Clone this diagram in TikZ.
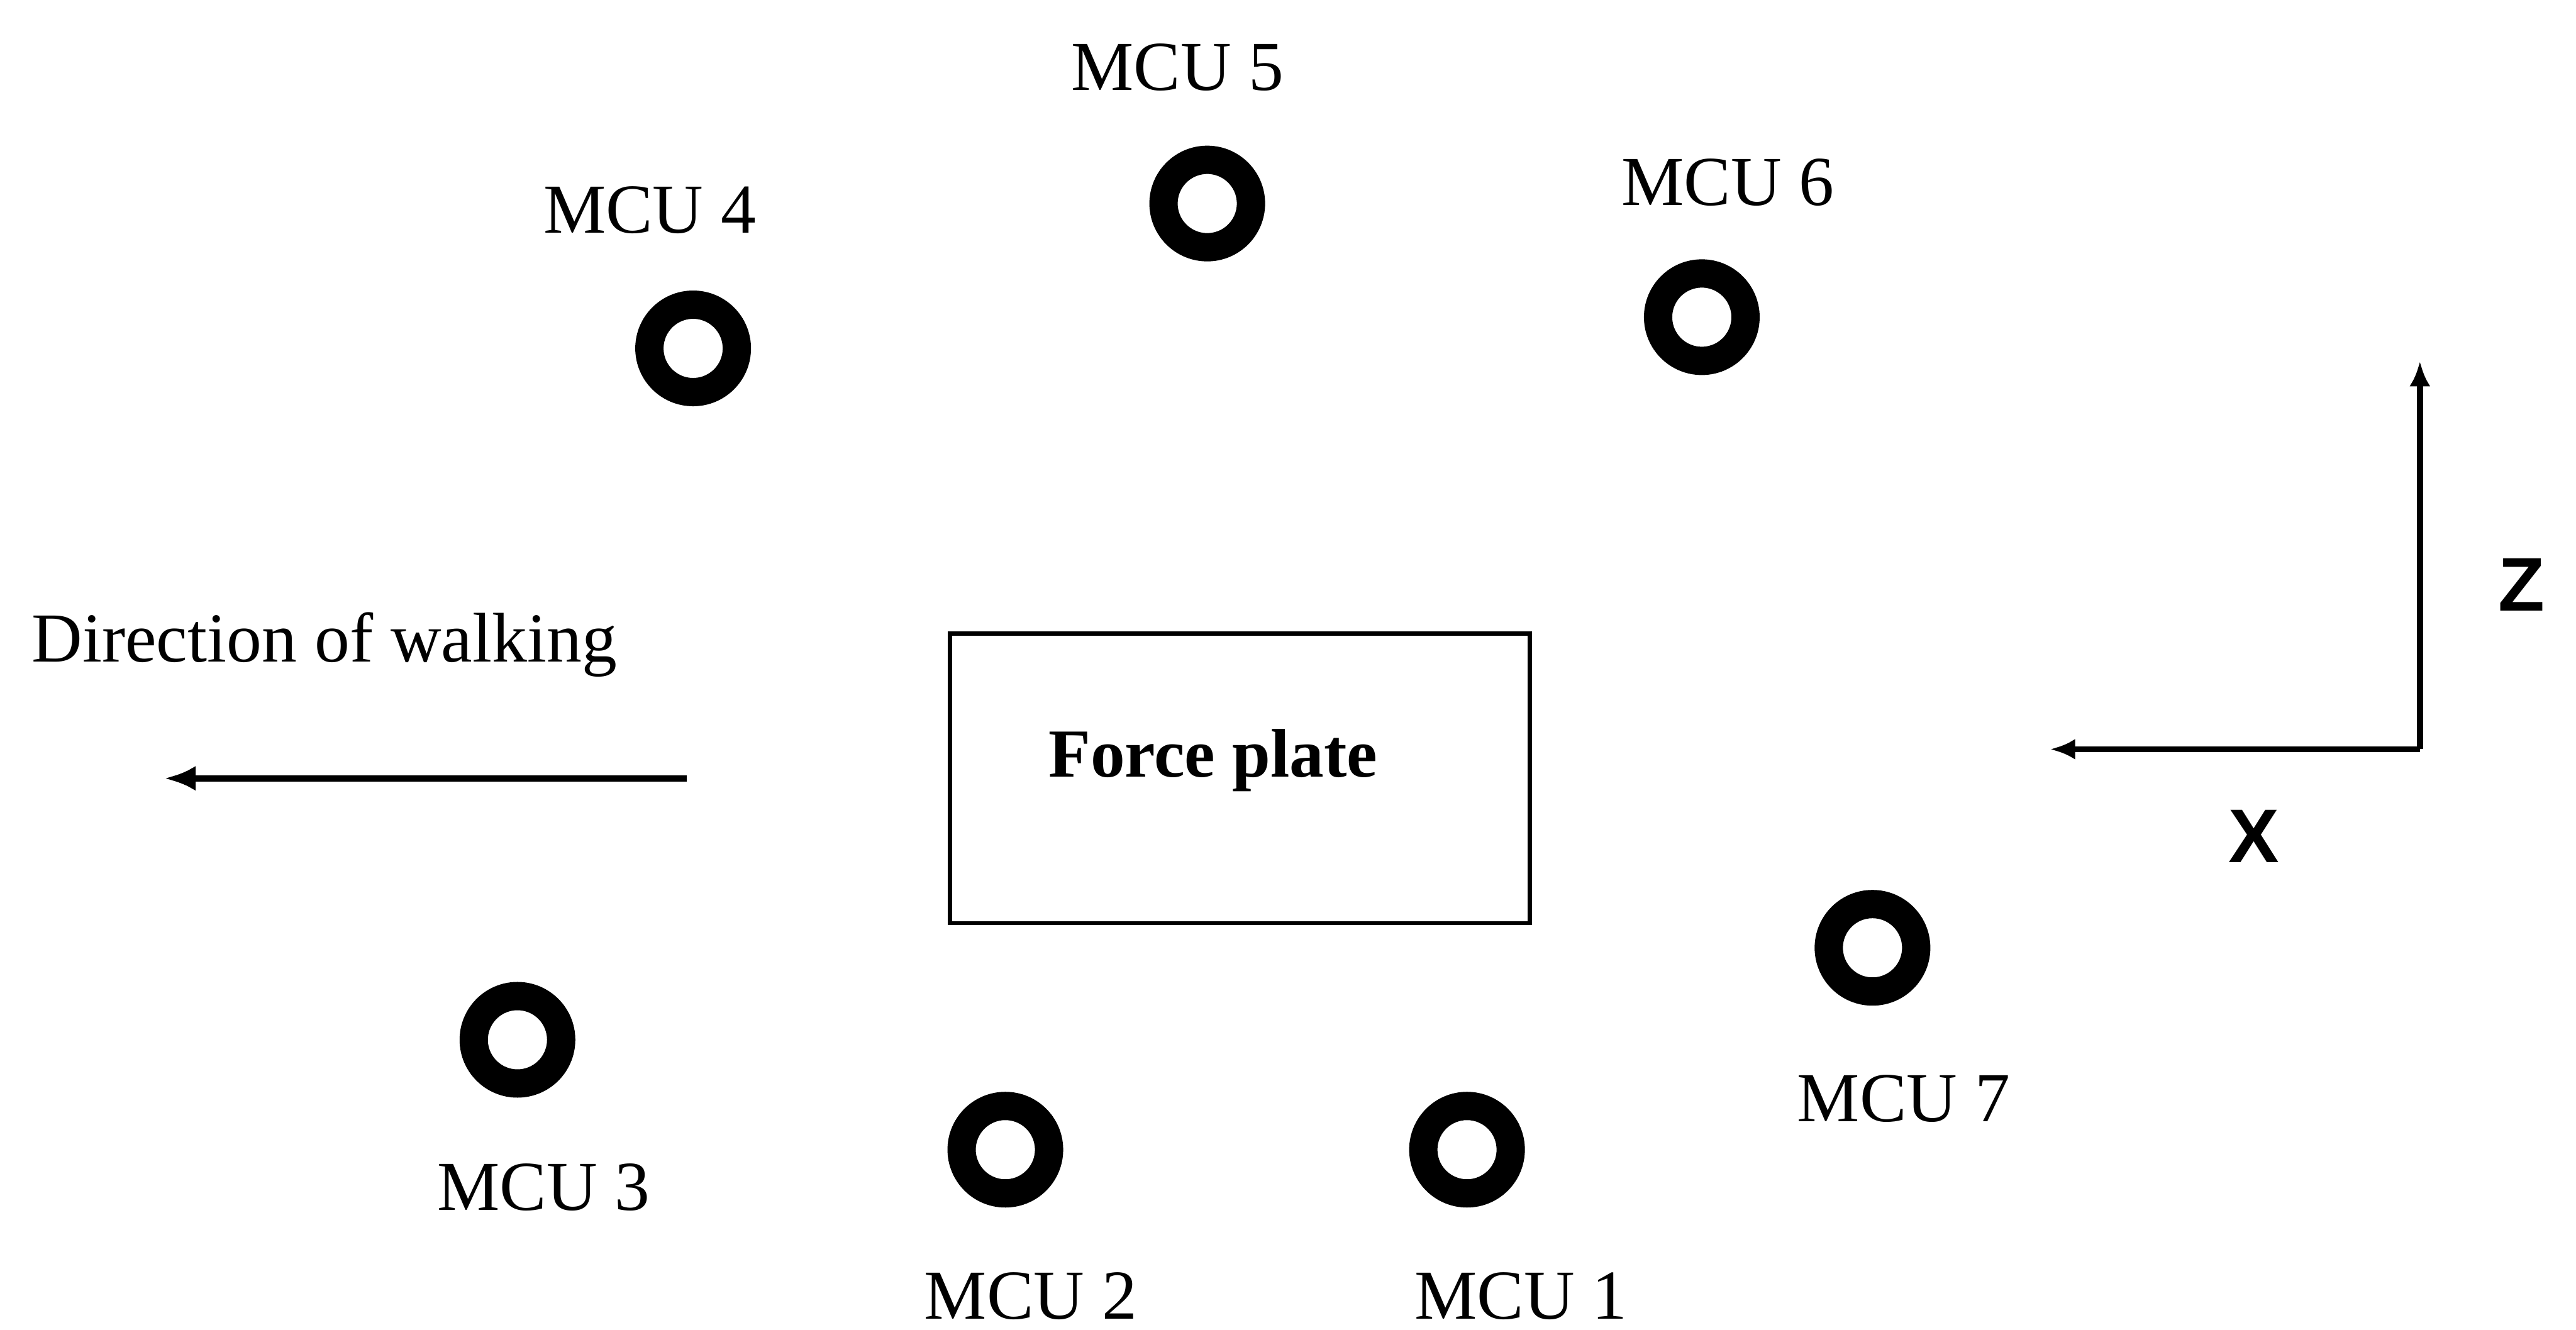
\documentclass[tikz,border=0pt]{standalone}
\usepackage{fontspec}
\setmainfont{Liberation Serif}
\newfontfamily\axisfont{Liberation Sans}
\usetikzlibrary{arrows.meta}

\tikzset{
	ring/.style={circle, draw, line width=0.68cm, minimum size=2.1cm, inner sep=0pt},
	mcu/.style={anchor=base, inner sep=0pt, font=\fontsize{48}{56}\selectfont},
	axis/.style={line width=0.15cm, -{Latex[length=0.6cm, width=0.5cm]}},
}

\begin{document}
\begin{tikzpicture}
	\useasboundingbox (0, 0) rectangle (61.88, 31.94);
	% cameras
	\node[ring] (m1) at (35.24, 4.32) {};
	\node[ring] (m2) at (24.15, 4.32) {};
	\node[ring] (m3) at (12.43, 6.96) {};
	\node[ring] (m4) at (16.65, 23.57) {};
	\node[ring] (m5) at (29.00, 27.05) {};
	\node[ring] (m6) at (40.88, 24.32) {};
	\node[ring] (m7) at (44.98, 9.17) {};
	\node[mcu] (l1) at (36.54, 0.25) {MCU 1};
	\node[mcu] (l2) at (24.76, 0.25) {MCU 2};
	\node[mcu] (l3) at (13.06, 2.86) {MCU 3};
	\node[mcu] (l4) at (15.61, 26.34) {MCU 4};
	\node[mcu] (l5) at (28.29, 29.77) {MCU 5};
	\node[mcu] (l6) at (41.51, 27.01) {MCU 6};
	\node[mcu] (l7) at (45.73, 4.99) {MCU 7};
	% force plate
	\node[draw, line width=0.1cm, minimum width=13.93cm, minimum height=6.95cm] (plate) at (29.78, 13.24) {};
	\node[mcu, font=\fontsize{47}{56}\selectfont\bfseries] (platetext) at (29.14, 13.28) {Force plate};
	% walking
	\node[mcu] (walk) at (7.79, 16.04) {Direction of walking};
	\coordinate (walkstart) at (16.49, 13.24);
	\coordinate (walkend) at (3.95, 13.24);
	\draw[axis, -{Latex[length=0.75cm, width=0.6cm]}] (walkstart) -- (walkend);
	% axes
	\coordinate (o) at (58.13, 13.94);
	\coordinate (zend) at (58.13, 23.26);
	\coordinate (xend) at (49.25, 13.94);
	\draw[axis] (o) -- (zend);
	\draw[axis] (o) -- (xend);
	\node[mcu, font=\fontsize{52}{60}\selectfont\axisfont\bfseries] (zlabel) at (60.57, 17.26) {Z};
	\node[mcu, font=\fontsize{52}{60}\selectfont\axisfont\bfseries] (xlabel) at (54.14, 11.22) {X};
\end{tikzpicture}
\end{document}
